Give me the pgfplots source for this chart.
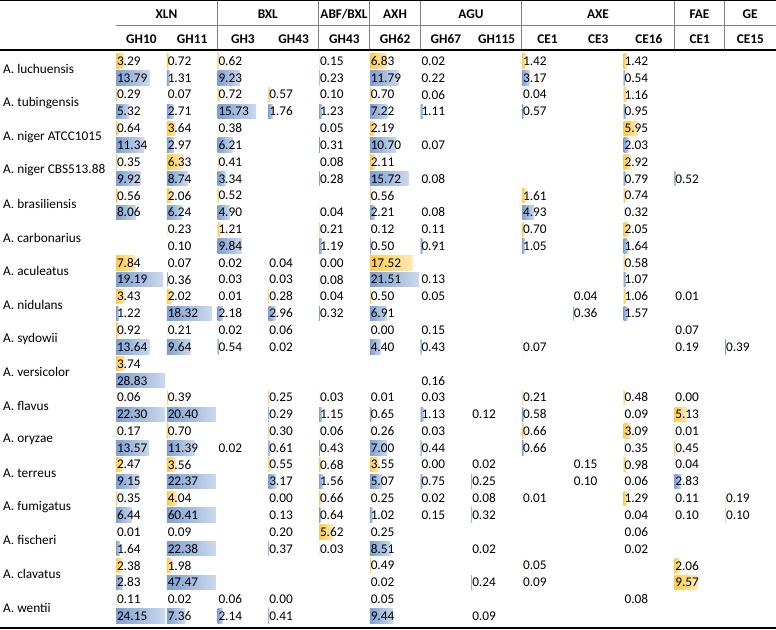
\documentclass[border=0pt]{standalone}
\usepackage{pgfplots}
\pgfplotsset{compat=1.18}
\usepackage{pgfplotstable}
\usepackage{fontspec}
\setmainfont{Carlito}
\definecolor{barY}{HTML}{FFBF1F}
\definecolor{barB}{HTML}{5F8AC6}
\definecolor{barYl}{HTML}{FFF9EC}
\definecolor{barBl}{HTML}{F3F6FB}
\definecolor{rulegray}{HTML}{808080}
\pgfdeclarehorizontalshading{shY}{100bp}{color(0bp)=(barY); color(6bp)=(barY); color(100bp)=(barYl)}
\pgfdeclarehorizontalshading{shB}{100bp}{color(0bp)=(barB); color(6bp)=(barB); color(100bp)=(barBl)}
\newcommand\tabfont{\fontsize{13.3}{16}\selectfont}
% one data bar per point: length \barlen (pt), colour flag \barcol
\pgfdeclareplotmark{hbar}{%
  \pgfpathrectangle{\pgfpoint{0pt}{-7.2pt}}{\pgfpoint{\barlen pt}{14.4pt}}%
  \ifdim\barcol pt<0.5pt \pgfshadepath{shY}{0}\else\pgfshadepath{shB}{0}\fi
  \pgfusepath{}}

% k = line index (even: first line, odd: second line), v = value, c = bar colour (0 yellow, 1 blue)
\pgfplotstableread{
k v c
0 3.29 0
1 13.79 1
2 0.29 0
3 5.32 1
4 0.64 0
5 11.34 1
6 0.35 0
7 9.92 1
8 0.56 0
9 8.06 1
12 7.84 0
13 19.19 1
14 3.43 0
15 1.22 1
16 0.92 0
17 13.64 1
18 3.74 0
19 28.83 1
20 0.06 0
21 22.30 1
22 0.17 0
23 13.57 1
24 2.47 0
25 9.15 1
26 0.35 0
27 6.44 1
28 0.01 0
29 1.64 1
30 2.38 0
31 2.83 1
32 0.11 0
33 24.15 1
}\colA
\pgfplotstableread{
k v c
0 0.72 0
1 1.31 1
2 0.07 0
3 2.71 1
4 3.64 0
5 2.97 1
6 6.33 0
7 8.74 1
8 2.06 0
9 6.24 1
10 0.23 0
11 0.10 1
12 0.07 0
13 0.36 1
14 2.02 0
15 18.32 1
16 0.21 0
17 9.64 1
20 0.39 0
21 20.40 1
22 0.70 0
23 11.39 1
24 3.56 0
25 22.37 1
26 4.04 0
27 60.41 1
28 0.09 0
29 22.38 1
30 1.98 0
31 47.47 1
32 0.02 0
33 7.36 1
}\colB
\pgfplotstableread{
k v c
0 0.62 0
1 9.23 1
2 0.72 0
3 15.73 1
4 0.38 0
5 6.21 1
6 0.41 0
7 3.34 1
8 0.52 0
9 4.90 1
10 1.21 0
11 9.84 1
12 0.02 0
13 0.03 1
14 0.01 0
15 2.18 1
16 0.02 0
17 0.54 1
23 0.02 1
32 0.06 0
33 2.14 1
}\colC
\pgfplotstableread{
k v c
2 0.57 0
3 1.76 1
12 0.04 0
13 0.03 1
14 0.28 0
15 2.96 1
16 0.06 0
17 0.02 1
20 0.25 0
21 0.29 1
22 0.30 0
23 0.61 1
24 0.55 0
25 3.17 1
26 0.00 0
27 0.13 1
28 0.20 0
29 0.37 1
32 0.00 0
33 0.41 1
}\colD
\pgfplotstableread{
k v c
0 0.15 0
1 0.23 1
2 0.10 0
3 1.23 1
4 0.05 0
5 0.31 1
6 0.08 0
7 0.28 1
9 0.04 1
10 0.21 0
11 1.19 1
12 0.00 0
13 0.08 1
14 0.04 0
15 0.32 1
20 0.03 0
21 1.15 1
22 0.06 0
23 0.43 1
24 0.68 0
25 1.56 1
26 0.66 0
27 0.64 1
28 5.62 0
29 0.03 1
}\colE
\pgfplotstableread{
k v c
0 6.83 0
1 11.79 1
2 0.70 0
3 7.22 1
4 2.19 0
5 10.70 1
6 2.11 0
7 15.72 1
8 0.56 0
9 2.21 1
10 0.12 0
11 0.50 1
12 17.52 0
13 21.51 1
14 0.50 0
15 6.91 1
16 0.00 0
17 4.40 1
20 0.01 0
21 0.65 1
22 0.26 0
23 7.00 1
24 3.55 0
25 5.07 1
26 0.25 0
27 1.02 1
28 0.25 0
29 8.51 1
30 0.49 0
31 0.02 1
32 0.05 0
33 9.44 1
}\colF
\pgfplotstableread{
k v c
0 0.02 0
1 0.22 1
2 0.06 0
3 1.11 1
5 0.07 1
7 0.08 1
9 0.08 1
10 0.11 0
11 0.91 1
13 0.13 1
14 0.05 0
16 0.15 0
17 0.43 1
19 0.16 1
20 0.03 0
21 1.13 1
22 0.03 0
23 0.44 1
24 0.00 0
25 0.75 1
26 0.02 0
27 0.15 1
}\colG
\pgfplotstableread{
k v c
21 0.12 1
24 0.02 0
25 0.25 1
26 0.08 0
27 0.32 1
29 0.02 1
31 0.24 1
33 0.09 1
}\colH
\pgfplotstableread{
k v c
0 1.42 0
1 3.17 1
2 0.04 0
3 0.57 1
8 1.61 0
9 4.93 1
10 0.70 0
11 1.05 1
17 0.07 1
20 0.21 0
21 0.58 1
22 0.66 0
23 0.66 1
26 0.01 0
30 0.05 0
31 0.09 1
}\colI
\pgfplotstableread{
k v c
14 0.04 0
15 0.36 1
24 0.15 0
25 0.10 1
}\colJ
\pgfplotstableread{
k v c
0 1.42 0
1 0.54 1
2 1.16 0
3 0.95 1
4 5.95 0
5 2.03 1
6 2.92 0
7 0.79 1
8 0.74 0
9 0.32 1
10 2.05 0
11 1.64 1
12 0.58 0
13 1.07 1
14 1.06 0
15 1.57 1
20 0.48 0
21 0.09 1
22 3.09 0
23 0.35 1
24 0.98 0
25 0.06 1
26 1.29 0
27 0.04 1
28 0.06 0
29 0.02 1
32 0.08 0
}\colK
\pgfplotstableread{
k v c
7 0.52 1
14 0.01 0
16 0.07 0
17 0.19 1
20 0.00 0
21 5.13 0
22 0.01 0
23 0.45 0
24 0.04 0
25 2.83 1
26 0.11 0
27 0.10 1
30 2.06 0
31 9.57 0
}\colL
\pgfplotstableread{
k v c
17 0.39 1
26 0.19 0
27 0.10 1
}\colM

\pgfplotsset{
  colax/.style={
    anchor=south west, scale only axis, width=49pt, height=629pt,
    xmin=0, xmax=20, ymin=0, ymax=629, y dir=reverse,
    hide axis, clip=false, enlargelimits=false},
}
\newcommand\colaxis[2]{%
\begin{axis}[colax, at={(#1pt,0pt)}]
\addplot[only marks, mark=hbar,
  visualization depends on={max(min(\thisrow{v},20)*2.45,0.05) \as \barlen},
  visualization depends on={\thisrow{c} \as \barcol},
  point meta=explicit symbolic,
  nodes near coords={\pgfplotspointmeta},
  every node near coord/.style={anchor=west, inner sep=0pt, xshift=0.8pt, text=black, font=\tabfont}]
  table[x expr=0, y expr=61+16.82*\thisrow{k}, meta=v] {#2};
\end{axis}}

\begin{document}
\begin{tikzpicture}
\begin{axis}[anchor=south west, at={(0pt,0pt)}, scale only axis, width=776pt, height=629pt,
  xmin=0, xmax=776, ymin=0, ymax=629, y dir=reverse, hide axis, clip=false, enlargelimits=false]
  % rules
  \draw[line width=1pt, black] (axis cs:0,0.6) -- (axis cs:776,0.6);
  \draw[line width=0.9pt, rulegray] (axis cs:116,25) -- (axis cs:776,25);
  \foreach \xx in {217,318.5,369.5,420.5,521.5,674,724.5}{
    \edef\tmp{\noexpand\draw[line width=0.9pt, rulegray] (axis cs:\xx,0.6) -- (axis cs:\xx,49);}\tmp}
  \draw[line width=2pt, black] (axis cs:0,49.5) -- (axis cs:776,49.5);
  \draw[line width=2pt, black] (axis cs:0,627.5) -- (axis cs:776,627.5);
  % group headers
  \begin{scope}[every node/.style={font=\tabfont\bfseries, inner sep=0pt}]
  \node at (axis cs:166.5,14) {XLN};
  \node at (axis cs:267.8,14) {BXL};
  \node at (axis cs:344,14) {ABF/BXL};
  \node at (axis cs:395,14) {AXH};
  \node at (axis cs:471,14) {AGU};
  \node at (axis cs:598,14) {AXE};
  \node at (axis cs:699.5,14) {FAE};
  \node at (axis cs:750,14) {GE};
  \foreach \lab [count=\j from 0] in {GH10,GH11,GH3,GH43,GH43,GH62,GH67,GH115,CE1,CE3,CE16,CE1,CE15}{
    \pgfmathsetmacro\xc{141.4+50.75*\j}
    \edef\tmp{\noexpand\node at (axis cs:\xc,39) {\lab};}\tmp}
  \end{scope}
  % species
  \begin{scope}[every node/.style={font=\tabfont, inner sep=0pt, anchor=west}]
  \foreach \sp [count=\i from 0] in {A. luchuensis,A. tubingensis,A. niger ATCC1015,A. niger CBS513.88,A. brasiliensis,A. carbonarius,A. aculeatus,A. nidulans,A. sydowii,A. versicolor,A. flavus,A. oryzae,A. terreus,A. fumigatus,A. fischeri,A. clavatus,A. wentii}{
    \pgfmathsetmacro\yc{61+16.82*(2*\i+0.5)}
    \edef\tmp{\noexpand\node at (axis cs:3,\yc) {\sp};}\tmp}
  \end{scope}
\end{axis}
\colaxis{116}{\colA}
\colaxis{166.75}{\colB}
\colaxis{217.5}{\colC}
\colaxis{268.25}{\colD}
\colaxis{319}{\colE}
\colaxis{369.75}{\colF}
\colaxis{420.5}{\colG}
\colaxis{471.25}{\colH}
\colaxis{522}{\colI}
\colaxis{572.75}{\colJ}
\colaxis{623.5}{\colK}
\colaxis{674.25}{\colL}
\colaxis{725}{\colM}
\pgfresetboundingbox
\path[use as bounding box] (0pt,0pt) rectangle (776pt,629pt);
\end{tikzpicture}
\end{document}
